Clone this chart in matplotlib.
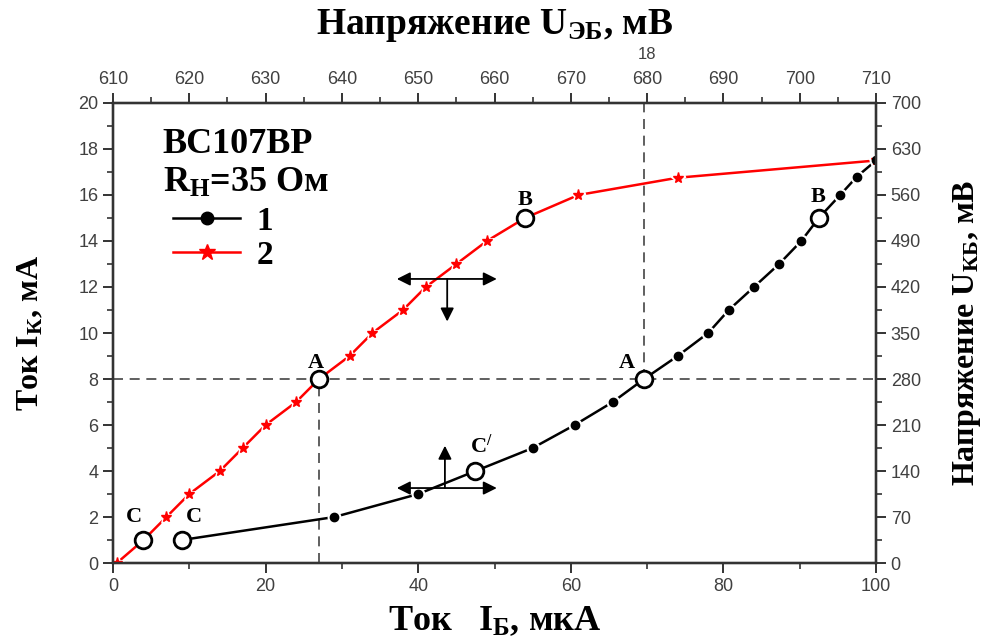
import matplotlib
matplotlib.use("Agg")
import matplotlib.pyplot as plt
from matplotlib.lines import Line2D

plt.rcParams['mathtext.fontset'] = 'custom'
plt.rcParams['mathtext.rm'] = 'Liberation Serif:bold'
plt.rcParams['mathtext.it'] = 'Liberation Serif:italic:bold'
plt.rcParams['mathtext.bf'] = 'Liberation Serif:bold'

# curve 2 (red, stars): I_B, I_K
ib_2 = [0.5, 4, 7, 10, 14, 17, 20, 24, 27, 31, 34, 38, 41, 45, 49, 54, 61, 74, 100]
ik_2 = [0, 1, 2, 3, 4, 5, 6, 7, 8, 9, 10, 11, 12, 13, 14, 15, 16, 16.75, 17.5]
# curve 1 (black, dots)
ib_1 = [9, 29, 40, 47.5, 55, 60.5, 65.5, 69.6, 74, 78, 80.7, 84, 87.3, 90.2, 92.5, 95.3, 97.5, 100]
ik_1 = [1, 2, 3, 4, 5, 6, 7, 8, 9, 10, 11, 12, 13, 14, 15, 16, 16.8, 17.5]

# marked operating points (open circles) and their labels
pt_x = [4, 9, 27, 69.6, 54, 92.5, 47.5]
pt_y = [1, 1, 8, 8, 15, 15, 4]
lbl_txt = ["C", "C", "A", "A", "B", "B", "C$^{/}$"]
lbl_x = [2.8, 10.6, 26.6, 67.3, 54, 92.4, 48.3]
lbl_y = [2.0, 2.0, 8.7, 8.7, 15.8, 15.9, 5.1]

# guide lines
ik_A = 8
ib_A_red = 27
ib_A_black = 69.6

# crosshair arrows
arr_h_x = [37.2, 50.3]
arr1_y = 12.35
arr1_vx, arr1_vy = 43.8, 10.5
arr2_y = 3.26
arr2_vx, arr2_vy = 43.5, 5.1

top_lim = [610, 710]
right_lim = [0, 700]

tick_color = '#404040'
serif = 'Liberation Serif'

fig = plt.figure(figsize=(9.91, 6.42), dpi=100)
ax = fig.add_axes([0.114, 0.123, 0.770, 0.7166])

ax.set_xlim(0, 100)
ax.set_ylim(0, 20)

# dashed guides
dash = (0, (6, 4))
ax.plot([0, 100], [ik_A, ik_A], ls=dash, color='#444444', lw=1.2, zorder=1)
ax.plot([ib_A_red, ib_A_red], [0, ik_A], ls=dash, color='#444444', lw=1.2, zorder=1)
ax.plot([ib_A_black, ib_A_black], [ik_A, 20], ls=dash, color='#444444', lw=1.2, zorder=1)

# curves, markers with white edge to give the gaps around points
ax.plot(ib_2, ik_2, color='red', lw=1.8, zorder=2)
ax.plot(ib_2, ik_2, ls='none', marker='*', ms=11, color='red', mec='white', mew=2, zorder=3)
ax.plot(ib_2, ik_2, ls='none', marker='*', ms=8, color='red', zorder=4)
ax.plot(ib_1, ik_1, color='black', lw=1.8, zorder=2)
ax.plot(ib_1, ik_1, ls='none', marker='o', ms=7, color='black', mec='white', mew=3, zorder=3)
ax.plot(ib_1, ik_1, ls='none', marker='o', ms=6, color='black', zorder=4)

ax.plot(pt_x, pt_y, ls='none', marker='o', ms=12, mfc='white', mec='black', mew=2, zorder=5)
for t, x, y in zip(lbl_txt, lbl_x, lbl_y):
    ax.text(x, y, t, fontsize=16, family=serif, weight='bold', ha='center', va='center', zorder=6)

arrow_kw = dict(arrowstyle='<|-|>', color='black', lw=1.3, mutation_scale=20, shrinkA=0, shrinkB=0)
ax.annotate('', xy=(arr_h_x[1], arr1_y), xytext=(arr_h_x[0], arr1_y), arrowprops=arrow_kw)
ax.annotate('', xy=(arr1_vx, arr1_vy), xytext=(arr1_vx, arr1_y),
            arrowprops=dict(arrow_kw, arrowstyle='-|>'))
ax.annotate('', xy=(arr_h_x[1], arr2_y), xytext=(arr_h_x[0], arr2_y), arrowprops=arrow_kw)
ax.annotate('', xy=(arr2_vx, arr2_vy), xytext=(arr2_vx, arr2_y),
            arrowprops=dict(arrow_kw, arrowstyle='-|>'))

# header text and legend
ax.text(0.065, 0.909, "BC107BP", transform=ax.transAxes, fontsize=26, family=serif,
        weight='bold', va='center')
ax.text(0.065, 0.826, "R$_{\\mathrm{H}}$=35 Ом", transform=ax.transAxes, fontsize=26,
        family=serif, weight='bold', va='center')
handles = [Line2D([], [], color='black', lw=1.8, marker='o', ms=9),
           Line2D([], [], color='red', lw=1.8, marker='*', ms=12)]
leg = ax.legend(handles, ['1', '2'], loc='upper left', bbox_to_anchor=(0.04, 0.842),
                frameon=False, handlelength=2.0, handletextpad=0.5, labelspacing=0.1,
                prop=dict(family=serif, weight='bold', size=24))

# axes styling
ax.set_xticks(range(0, 101, 20))
ax.set_xticks(range(0, 101, 10), minor=True)
ax.set_yticks(range(0, 21, 2))
ax.set_yticks(range(0, 21, 1), minor=True)
ax.set_xlabel("Ток   I$_{\\mathrm{Б}}$, мкА", fontsize=26, family=serif, weight='bold', labelpad=7)
ax.set_ylabel("Ток I$_{\\mathrm{К}}$, мА", fontsize=23, family=serif, weight='bold', labelpad=24)

ax_top = ax.twiny()
ax_top.set_xlim(*top_lim)
ax_top.set_xticks(range(610, 711, 10))
ax_top.set_xticks(range(610, 711, 5), minor=True)
ax_top.set_xlabel("Напряжение U$_{\\mathrm{ЭБ}}$, мВ", fontsize=27, family=serif,
                  weight='bold', labelpad=27)
ax_top.text(680, 1.105, "18", transform=ax_top.get_xaxis_transform(), ha='center',
            va='center', fontsize=12, family='Liberation Sans', color=tick_color)

ax_right = ax.twinx()
ax_right.set_ylim(*right_lim)
ax_right.set_yticks(range(0, 701, 70))
ax_right.set_yticks(range(0, 701, 35), minor=True)
ax_right.set_ylabel("Напряжение U$_{\\mathrm{КБ}}$, мВ", fontsize=23, family=serif,
                    weight='bold', labelpad=22)

for a in (ax, ax_top, ax_right):
    for s in a.spines.values():
        s.set_color('#333333')
        s.set_linewidth(1.6)
    a.tick_params(which='major', direction='out', length=7, width=1.4, color='#333333',
                  labelsize=13, labelcolor=tick_color)
    a.tick_params(which='minor', direction='out', length=4, width=1.2, color='#333333')
    for lab in a.get_xticklabels() + a.get_yticklabels():
        lab.set_family('Liberation Sans')

fig.savefig('out.png', dpi=100)
